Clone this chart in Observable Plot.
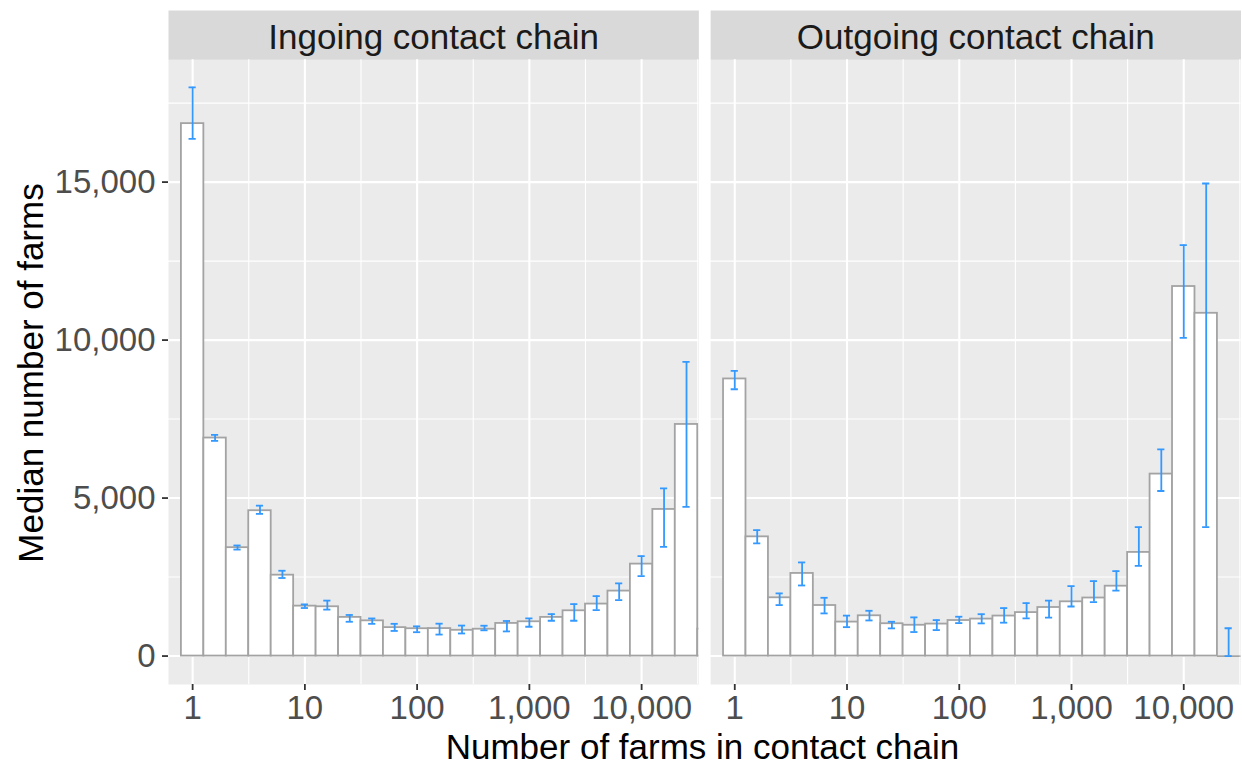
<!DOCTYPE html>
<html>
<head>
<meta charset="utf-8">
<script src="https://cdn.jsdelivr.net/npm/d3@7"></script>
<script src="https://cdn.jsdelivr.net/npm/@observablehq/plot@0.6"></script>
<style>
  body { margin: 0; background: #ffffff; }
  #chart { width: 1242px; height: 765px; }
</style>
</head>
<body>
<div id="chart"></div>
<script>
// Facet panels
const panels = ["Ingoing contact chain", "Outgoing contact chain"];

// log10 of the centre of each chain-size bin (bins are 0.2 decades wide)
const binExp = [0, 0.2, 0.4, 0.6, 0.8, 1.0, 1.2, 1.4, 1.6, 1.8, 2.0, 2.2,
                2.4, 2.6, 2.8, 3.0, 3.2, 3.4, 3.6, 3.8, 4.0, 4.2, 4.4, 4.6];

// Ingoing chains: median number of farms and its interval
const ingoingMedian = [16850, 6900, 3430, 4600, 2560, 1580, 1560, 1224, 1115, 900, 865, 870,
                       815, 850, 1033, 1085, 1224, 1433, 1645, 2056, 2910, 4640, 7330, 850];
const ingoingLow    = [16370, 6810, 3370, 4500, 2470, 1520, 1470, 1085, 1020, 795, 755, 680,
                       715, 815, 780, 927, 1117, 1117, 1455, 1771, 2530, 3457, 4722, null];
const ingoingHigh   = [18000, 7000, 3500, 4760, 2700, 1635, 1755, 1300, 1190, 1020, 940, 1025,
                       965, 960, 1110, 1192, 1328, 1645, 1897, 2299, 3163, 5304, 9308, null];

// Outgoing chains: median number of farms and its interval
const outgoingMedian = [8770, 3773, 1844, 2615, 1600, 1075, 1275, 1023, 975, 1012, 1125, 1170,
                        1266, 1376, 1537, 1717, 1837, 2211, 3280, 5759, 11695, 10848, 0, 0];
const outgoingLow    = [8444, 3564, 1613, 2234, 1350, 915, 1127, 876, 760, 822, 1043, 1034,
                        1056, 1195, 1218, 1569, 1708, 2071, 2853, 5224, 10070, 4080, 0, null];
const outgoingHigh   = [9023, 3985, 1983, 2963, 1844, 1280, 1433, 1085, 1224, 1138, 1245, 1325,
                        1518, 1676, 1752, 2211, 2372, 2691, 4080, 6540, 13008, 14956, 880, null];

// Axis ticks
const xMajor = [1, 10, 100, 1000, 10000];
const xMinor = [10 ** 0.5, 10 ** 1.5, 10 ** 2.5, 10 ** 3.5, 10 ** 4.5];
const yMajor = [0, 5000, 10000, 15000];
const yMinor = [2500, 7500, 12500, 17500];

const series = [
  [ingoingMedian, ingoingLow, ingoingHigh],
  [outgoingMedian, outgoingLow, outgoingHigh]
];
const rows = [];
panels.forEach((panel, p) => {
  const [med, lo, hi] = series[p];
  binExp.forEach((e, i) => rows.push({panel, e, median: med[i], low: lo[i], high: hi[i]}));
});
const withInterval = rows.filter(d => d.low != null);

const halfBin = 0.1, halfCap = 0.032;
const fmt = d3.format(",");
const font = "'Liberation Sans', Arial, Helvetica, sans-serif";

const W = 1242, H = 765;
const mTop = 59.3, mBottom = 81, mLeft = 168, mRight = 1.5;

const chart = Plot.plot({
  width: W,
  height: H,
  marginTop: mTop,
  marginBottom: mBottom,
  marginLeft: mLeft,
  marginRight: mRight,
  style: {fontFamily: font, background: "#ffffff", overflow: "visible"},
  fx: {domain: panels, axis: null, padding: 0.0217, round: false},
  x: {type: "log", domain: [10 ** -0.215, 10 ** 4.51], label: null},
  y: {domain: [-900, 18870], label: null},
  marks: [
    // panel background and facet strip
    Plot.frame({fill: "#EBEBEB"}),
    Plot.frame({fill: "#D9D9D9", insetTop: -49.3, insetBottom: H - mBottom - mTop}),
    Plot.text(panels, {fx: d => d, text: d => d, frameAnchor: "top", lineAnchor: "middle",
                       dy: -22.3, fontSize: 35, fill: "#1A1A1A"}),
    // grid
    Plot.gridY(yMinor, {stroke: "#ffffff", strokeOpacity: 1, strokeWidth: 1.1}),
    Plot.gridX(xMinor, {stroke: "#ffffff", strokeOpacity: 1, strokeWidth: 1.1}),
    Plot.gridY(yMajor, {stroke: "#ffffff", strokeOpacity: 1, strokeWidth: 2.1}),
    Plot.gridX(xMajor, {stroke: "#ffffff", strokeOpacity: 1, strokeWidth: 2.1}),
    // bars
    Plot.rectY(rows, {fx: "panel", x1: d => 10 ** (d.e - halfBin), x2: d => 10 ** (d.e + halfBin),
                      y: "median", fill: "#ffffff", stroke: "#A3A3A3", strokeWidth: 1.8, clip: true}),
    Plot.ruleY(rows.filter(d => d.median === 0), {fx: "panel", y: 0,
                      x1: d => 10 ** (d.e - halfBin), x2: d => 10 ** (d.e + halfBin),
                      stroke: "#A3A3A3", strokeWidth: 1.8, clip: true}),
    // intervals
    Plot.ruleX(withInterval, {fx: "panel", x: d => 10 ** d.e, y1: "low", y2: "high",
                              stroke: "#3399FF", strokeWidth: 1.8, clip: true}),
    Plot.ruleY(withInterval, {fx: "panel", y: "low", x1: d => 10 ** (d.e - halfCap),
                              x2: d => 10 ** (d.e + halfCap), stroke: "#3399FF", strokeWidth: 1.8, clip: true}),
    Plot.ruleY(withInterval, {fx: "panel", y: "high", x1: d => 10 ** (d.e - halfCap),
                              x2: d => 10 ** (d.e + halfCap), stroke: "#3399FF", strokeWidth: 1.8, clip: true}),
    // axes
    Plot.axisY(yMajor, {tickFormat: fmt, tickSize: 6, tickPadding: 7, fontSize: 33,
                        color: "#4D4D4D", stroke: "#333333", strokeWidth: 1.8, label: null}),
    Plot.axisX(xMajor, {tickFormat: fmt, tickSize: 6, tickPadding: 5, fontSize: 33,
                        color: "#4D4D4D", stroke: "#333333", strokeWidth: 1.8, label: null})
  ]
});

// Axis titles
const svg = d3.select(chart);
svg.append("text")
  .attr("x", 702.5).attr("y", 746)
  .attr("text-anchor", "middle").attr("dominant-baseline", "central")
  .attr("font-family", font).attr("font-size", 35).attr("fill", "#000000")
  .text("Number of farms in contact chain");
svg.append("text")
  .attr("transform", "translate(30,373) rotate(-90)")
  .attr("text-anchor", "middle").attr("dominant-baseline", "central")
  .attr("font-family", font).attr("font-size", 35).attr("fill", "#000000")
  .text("Median number of farms");

document.getElementById("chart").appendChild(chart);
</script>
</body>
</html>
